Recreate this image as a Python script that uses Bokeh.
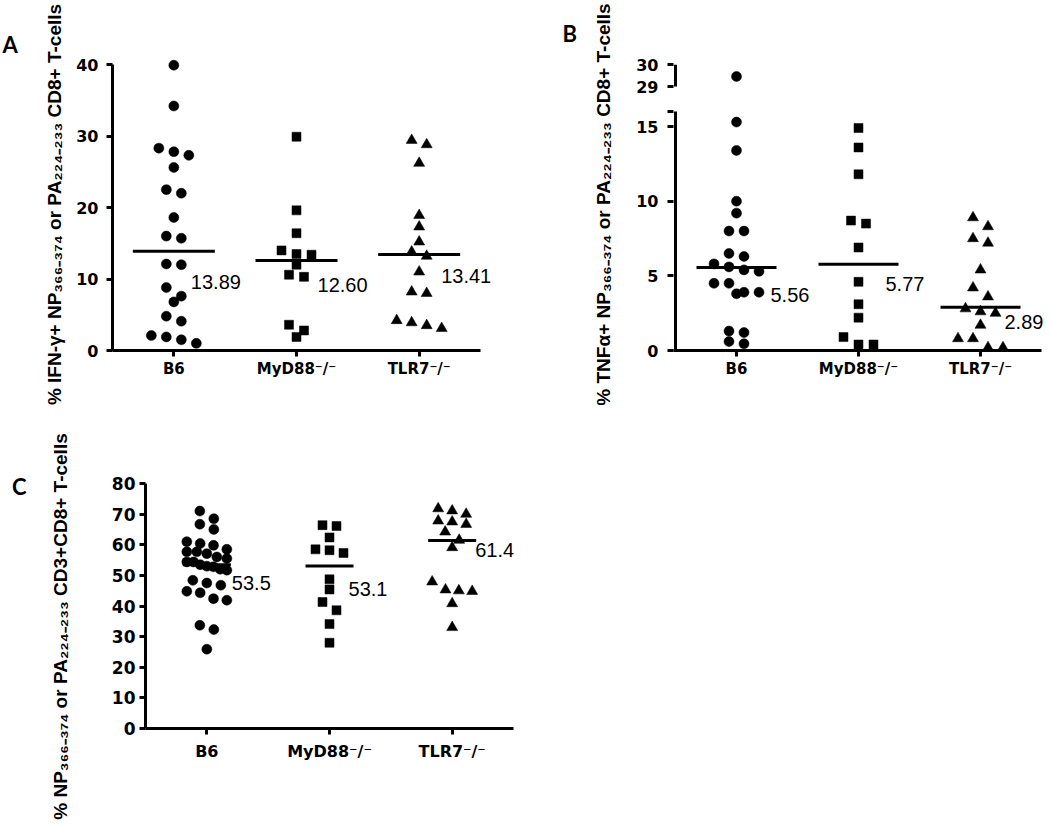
from bokeh.plotting import figure
from bokeh.models import Range1d, FixedTicker, Label, LinearAxis, Title
from bokeh.layouts import column, row
from bokeh.embed import file_html
from bokeh.resources import INLINE

# ---------------- data ----------------
groups = ["B6", "MyD88⁻/⁻", "TLR7⁻/⁻"]
markers = ["circle", "square", "triangle"]

# Panel A: % IFN-γ+ cells
a_b6 = [39.9, 34.2, 28.3, 27.8, 27.3, 25.6, 22.5, 22.0, 18.6, 16.0, 15.7,
        12.1, 12.0, 8.8, 7.6, 6.8, 4.8, 4.1, 2.1, 1.9, 1.5, 1.0]
a_myd88 = [29.9, 19.6, 16.4, 14.0, 13.5, 13.4, 12.0, 10.6, 10.3, 3.6, 2.8, 1.9]
a_tlr7 = [29.4, 28.8, 26.2, 18.9, 17.3, 15.2, 13.8, 13.2, 11.0, 8.2, 8.0,
          4.2, 3.9, 3.5, 3.1]
a_medians = [13.89, 12.60, 13.41]
a_yticks = [0, 10, 20, 30, 40]

# Panel B: % TNFα+ cells (broken axis 16 -> 29)
b_b6 = [29.46, 15.3, 13.4, 10.0, 9.2, 8.0, 8.0, 6.5, 6.3, 5.8, 5.6, 5.4, 5.3,
        4.5, 4.5, 3.9, 3.9, 3.8, 1.3, 1.2, 0.6, 0.45]
b_myd88 = [14.9, 13.6, 11.8, 8.7, 8.5, 6.9, 4.6, 3.1, 2.2, 0.9, 0.4, 0.4]
b_tlr7 = [8.9, 8.3, 7.5, 7.2, 5.4, 4.2, 3.6, 2.8, 2.6, 2.5, 1.7, 0.8, 0.8,
          0.2, 0.2]
b_medians = [5.56, 5.77, 2.89]
b_yticks_low = [0, 5, 10, 15]
b_yticks_high = [29, 30]
b_break = (16, 29)

# Panel C: % tetramer+ of CD3+CD8+
c_b6 = [71.0, 68.5, 66.7, 65.0, 61.0, 60.4, 59.8, 58.5, 57.7, 57.7, 57.1,
        56.0, 55.5, 54.4, 54.4, 53.5, 53.0, 52.8, 52.0, 51.7, 48.4, 47.5,
        46.8, 44.8, 44.3, 42.4, 41.9, 33.7, 32.3, 25.9]
c_myd88 = [66.4, 66.1, 62.4, 58.5, 58.2, 57.3, 48.7, 45.4, 41.3, 38.6, 34.1, 28.0]
c_tlr7 = [71.8, 71.1, 70.0, 67.8, 67.5, 66.7, 64.2, 61.5, 59.1, 47.9, 45.3,
          45.0, 44.8, 40.8, 33.0]
c_medians = [53.5, 53.1, 61.4]
c_yticks = [0, 10, 20, 30, 40, 50, 60, 70, 80]

label_a = "% IFN-γ+ NP₃₆₆₋₃₇₄ or PA₂₂₄₋₂₃₃ CD8+ T-cells"
label_b = "% TNFα+ NP₃₆₆₋₃₇₄ or PA₂₂₄₋₂₃₃ CD8+ T-cells"
label_c = "% NP₃₆₆₋₃₇₄ or PA₂₂₄₋₂₃₃ CD3+CD8+ T-cells"

# ---------------- styling ----------------
FONT = "Liberation Sans"
TICK_FONT = "DejaVu Sans"
LETTER_FONT = "Lato"


def swarm_offsets(vals, ppu, dia, step, max_half):
    order = sorted(range(len(vals)), key=lambda i: -vals[i])
    rows, cur = [], []
    for i in order:
        if cur and (vals[cur[0]] - vals[i]) * ppu >= dia:
            rows.append(cur)
            cur = []
        cur.append(i)
    if cur:
        rows.append(cur)
    offs = [0.0] * len(vals)
    for r in rows:
        n = len(r)
        s = step if n < 2 else min(step, 2 * max_half / (n - 1))
        for k, i in enumerate(r):
            offs[i] = (k - (n - 1) / 2) * s
    return offs


def base_fig(fw, fh, bl, bt, br, bb, x0, x1, y0, y1):
    p = figure(frame_width=fw, frame_height=fh, min_border_left=bl,
               min_border_top=bt, min_border_right=br, min_border_bottom=bb,
               x_range=Range1d(x0, x1), y_range=Range1d(y0, y1), title=None,
               output_backend="svg", toolbar_location=None)
    p.grid.visible = False
    p.outline_line_color = None
    p.background_fill_color = "white"
    p.border_fill_color = "white"
    return p


def style_axis(ax, size, standoff):
    ax.axis_line_width = 3
    ax.axis_line_color = "black"
    ax.major_tick_line_width = 3
    ax.major_tick_line_color = "black"
    ax.major_tick_out = 6
    ax.major_tick_in = 0
    ax.minor_tick_line_color = None
    ax.major_label_text_font = TICK_FONT
    ax.major_label_text_font_style = "bold"
    ax.major_label_text_font_size = f"{size}px"
    ax.major_label_text_color = "black"
    ax.major_label_standoff = standoff
    ax.axis_label_text_font = FONT
    ax.axis_label_text_font_style = "bold"
    ax.axis_label_text_color = "black"


def setup_x(p, size, standoff, start=0):
    ax = p.xaxis[0]
    style_axis(ax, size, standoff)
    ax.ticker = FixedTicker(ticks=[0.5, 1.5, 2.5])
    ax.major_label_overrides = {0.5: groups[0], 1.5: groups[1], 2.5: groups[2]}
    ax.bounds = (start, 3)


def draw_groups(p, data, ppu, ppx, dia, step, max_half, sizes,
                y_range_name="default"):
    for i, vals in enumerate(data):
        if not vals:
            continue
        offs = swarm_offsets(vals, ppu, dia, step, max_half)
        xs = [i + 0.5 + o / ppx for o in offs]
        p.scatter(xs, vals, marker=markers[i], size=sizes[i],
                  fill_color="black", line_color="black", line_width=0.5,
                  y_range_name=y_range_name)


def draw_medians(p, medians, half_px, fmt, ppu, ppx, lab_off, fsize):
    hw = half_px / ppx
    cx = [i + 0.5 for i in range(len(medians))]
    p.segment(x0=[c - hw for c in cx], x1=[c + hw for c in cx],
              y0=medians, y1=medians, line_color="black", line_width=3)
    for c, m, (dx, dy) in zip(cx, medians, lab_off):
        p.add_layout(Label(x=c + dx / ppx, y=m - dy / ppu, text=fmt.format(m),
                           text_font=FONT, text_font_size=f"{fsize}px",
                           text_align="left", text_baseline="middle",
                           text_color="black"))


def letter_title(p, text, offset, standoff):
    p.add_layout(Title(text=text, align="left", offset=offset, standoff=standoff,
                       text_font=LETTER_FONT, text_font_style="bold",
                       text_font_size="22px", text_color="black"), "above")


def text_axis(p, pos, text, standoff, font, size, orientation="horizontal"):
    ax = LinearAxis(ticker=FixedTicker(ticks=[pos]),
                    major_label_overrides={pos: text})
    ax.axis_line_color = None
    ax.major_tick_line_color = None
    ax.minor_tick_line_color = None
    ax.major_tick_out = 0
    ax.major_tick_in = 0
    ax.major_label_standoff = standoff
    ax.major_label_orientation = orientation
    ax.major_label_text_font = font
    ax.major_label_text_font_style = "bold"
    ax.major_label_text_font_size = f"{size}px"
    ax.major_label_text_color = "black"
    p.add_layout(ax, "left")
    return ax


SIZES = [10, 9, 11]
TOP, FH_TOP, BOT = 58, 292, 55   # shared by both top-row panels

# ---------------- Panel A ----------------
ppu_a, ppx_a = 7.15, 122.67
fw_a = 423
pa = base_fig(fw_a, FH_TOP, 112, TOP, 5, BOT, 0, fw_a / ppx_a, 0, FH_TOP / ppu_a)
setup_x(pa, 15, 3)
ya = pa.yaxis[0]
style_axis(ya, 16, 8)
ya.ticker = FixedTicker(ticks=a_yticks)
ya.bounds = (0, max(a_yticks))
ya.axis_label = label_a
ya.axis_label_text_font_size = "19px"
ya.axis_label_standoff = 8
draw_groups(pa, [a_b6, a_myd88, a_tlr7], ppu_a, ppx_a, 9.5, 15, 23, SIZES)
draw_medians(pa, a_medians, 41, "{:.2f}", ppu_a, ppx_a,
             [(17, 31), (21, 25), (22, 21)], 20)
letter_title(pa, "A", -110, 1)

# ---------------- Panel B ----------------
ppu_b, ppx_b = 14.93, 122.0
ppu_b_top = 21.7
fw_b = 371
x0_b = -2 / ppx_b
pb = base_fig(fw_b, FH_TOP, 133, TOP, 4, BOT, x0_b, x0_b + fw_b / ppx_b,
              0, FH_TOP / ppu_b)
# upper (broken) segment: own range, 29 sits 264 px above zero, 21.7 px/unit
top_start = b_break[1] - 264 / ppu_b_top
top_end = top_start + FH_TOP / ppu_b_top
pb.extra_y_ranges = {"top": Range1d(top_start, top_end)}


def to_main(v):
    return round((v - top_start) * ppu_b_top / ppu_b, 4)


setup_x(pb, 15, 3, start=x0_b)
yb = pb.yaxis[0]
style_axis(yb, 16, 9)
high_pos = [to_main(v) for v in b_yticks_high]
yb.ticker = FixedTicker(ticks=b_yticks_low + [b_break[0]] + high_pos)
overrides = {b_break[0]: ""}
for pos, v in zip(high_pos, b_yticks_high):
    overrides[pos] = str(v)
yb.major_label_overrides = overrides
yb.axis_line_color = None
yb.axis_label = label_b
yb.axis_label_text_font_size = "19px"
yb.axis_label_standoff = 19
# axis line drawn in two pieces (break between 16 and 29)
pb.segment(x0=[0, 0], x1=[0, 0], y0=[0, high_pos[0]],
           y1=[b_break[0], high_pos[-1]], line_color="black", line_width=3)
low = [[v for v in g if v <= b_break[0]] for g in (b_b6, b_myd88, b_tlr7)]
high = [[v for v in g if v >= b_break[1]] for g in (b_b6, b_myd88, b_tlr7)]
draw_groups(pb, low, ppu_b, ppx_b, 9.5, 15, 29, SIZES)
draw_groups(pb, high, ppu_b_top, ppx_b, 9.5, 15, 29, SIZES, y_range_name="top")
draw_medians(pb, b_medians, 40, "{:.2f}", ppu_b, ppx_b,
             [(34, 28), (27, 20), (24, 15)], 20)
letter_title(pb, "B", -111, 23)

# ---------------- Panel C ----------------
ppu_c, ppx_c = 3.0625, 122.67
fw_c, fh_c = 385, 250
pc = base_fig(fw_c, fh_c, 145, 73, 10, 95, 0, fw_c / ppx_c, 0, fh_c / ppu_c)
setup_x(pc, 16, 7)
yc = pc.yaxis[0]
style_axis(yc, 17, 4)
yc.ticker = FixedTicker(ticks=c_yticks)
yc.bounds = (0, max(c_yticks))
draw_groups(pc, [c_b6, c_myd88, c_tlr7], ppu_c, ppx_c, 10, 14, 20, SIZES)
draw_medians(pc, c_medians, 24, "{:.1f}", ppu_c, ppx_c,
             [(25, 18), (19, 23), (23, 10)], 20)
# y label (rotated) and panel letter, placed beside the axis
text_axis(pc, round(102 / ppu_c, 2), label_c, 37, FONT, 19, "parallel")
text_axis(pc, round(242 / ppu_c, 2), "C", 21, LETTER_FONT, 22)

layout = column(row(pa, pb), pc)
open("out.html", "w").write(file_html(layout, INLINE))
